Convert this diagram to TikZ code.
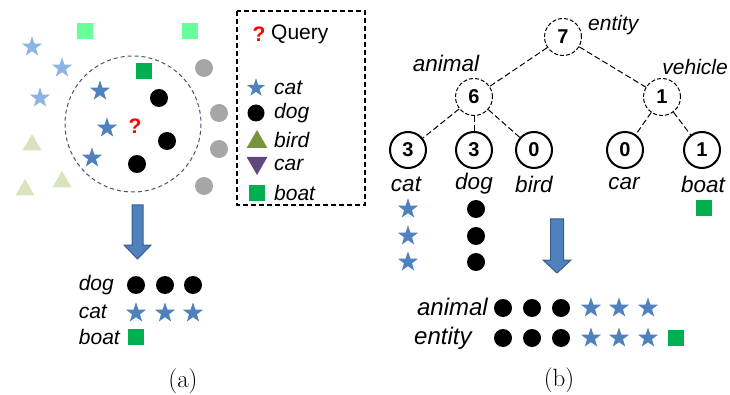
\documentclass[tikz,border=0pt]{standalone}
\usepackage{fontspec}
\newfontfamily\arial{Liberation Sans}
\usetikzlibrary{shapes.geometric}
\definecolor{cblue}{HTML}{4F81BD}
\definecolor{cblueD}{HTML}{385D8A}
\definecolor{lblue}{HTML}{8EB4E3}
\definecolor{mint}{HTML}{66FF99}
\definecolor{cgreen}{HTML}{00B050}
\definecolor{cgray}{HTML}{A6A6A6}
\definecolor{lgreen}{HTML}{D7E4BD}
\definecolor{olive}{HTML}{77933C}
\definecolor{purp}{HTML}{5F497A}
\definecolor{ring}{HTML}{44546A}
\tikzset{
  sym/.style={inner sep=0pt, outer sep=0pt, draw=none},
  bstar/.style={sym, star, star points=5, star point ratio=2.5, minimum size=21pt, fill=cblue},
  lstar/.style={bstar, fill=lblue},
  dot/.style={sym, circle, minimum size=18pt, fill=black},
  gdot/.style={dot, fill=cgray},
  sq/.style={sym, rectangle, minimum size=16pt, fill=cgreen},
  lsq/.style={sq, fill=mint},
  tri/.style={sym, regular polygon, regular polygon sides=3, minimum size=22pt, fill=lgreen},
  lab/.style={inner sep=0pt, font=\arial\itshape\fontsize{21}{24}\selectfont},
  tlab/.style={inner sep=0pt, font=\arial\itshape\fontsize{22.5}{26}\selectfont},
  blab/.style={inner sep=0pt, font=\arial\itshape\fontsize{24}{28}\selectfont},
  dnode/.style={circle, draw, dashed, dash pattern=on 4pt off 2pt, line width=1pt, minimum size=37pt, inner sep=0pt, font=\arial\bfseries\fontsize{20}{22}\selectfont},
  snode/.style={circle, draw, line width=2pt, minimum size=36pt, inner sep=0pt, font=\arial\bfseries\fontsize{20}{22}\selectfont},
  tedge/.style={dashed, dash pattern=on 6pt off 3pt, line width=1pt},
  barrow/.style={fill=cblue, draw=cblueD, line width=1pt},
  captxt/.style={inner sep=0pt, font=\fontsize{25}{28}\selectfont}
}
\begin{document}
\begin{tikzpicture}[x=1pt, y=-1pt]
\useasboundingbox (0,0) rectangle (730,395);
% ---------- (a) scatter ----------
\node[lsq] (m1) at (84.5,31) {};
\node[lsq] (m2) at (189.5,31) {};
\node[lstar] (ls1) at (32,47) {};
\node[lstar] (ls2) at (62,68) {};
\node[lstar] (ls3) at (40,98) {};
\node[tri] (t1) at (32,145) {};
\node[tri] (t2) at (62,182) {};
\node[tri] (t3) at (25,190) {};
\node[gdot] (g1) at (204,68) {};
\node[gdot] (g2) at (219,113) {};
\node[gdot] (g3) at (219,149) {};
\node[gdot] (g4) at (204,186) {};
\draw[ring, dashed, dash pattern=on 4pt off 3pt, line width=1pt] (133,124) circle (68);
\node[sq] (gs) at (143.5,71.5) {};
\node[bstar] (s1) at (100,91) {};
\node[bstar] (s2) at (107,128) {};
\node[bstar] (s3) at (92,158) {};
\node[dot] (d1) at (159,98) {};
\node[dot] (d2) at (167,141) {};
\node[dot] (d3) at (137,164) {};
\node[inner sep=0pt, text=red, font=\arial\bfseries\fontsize{21}{24}\selectfont] (q) at (135,126) {?};
% legend
\draw[dashed, dash pattern=on 5pt off 3pt, line width=1.5pt] (237,11) rectangle (365,205);
\node[inner sep=0pt, text=red, font=\arial\bfseries\fontsize{21}{24}\selectfont] (lq) at (259,34) {?};
\node[inner sep=0pt, anchor=west, font=\arial\fontsize{21}{24}\selectfont] (lqt) at (271,34) {Query};
\node[bstar, minimum size=19pt] (lg1) at (256,88) {};
\node[lab, anchor=west] at (274,88) {cat};
\node[dot, minimum size=17pt] (lg2) at (256,113) {};
\node[lab, anchor=west] at (274,113) {dog};
\node[tri, fill=olive, minimum size=24pt] (lg3) at (257,142) {};
\node[lab, anchor=west] at (274,140) {bird};
\node[tri, fill=purp, minimum size=24pt, shape border rotate=180] (lg4) at (257,163) {};
\node[lab, anchor=west] at (274,165) {car};
\node[sq] (lg5) at (257,193) {};
\node[lab, anchor=west] at (274,193) {boat};
% arrow a
\draw[barrow] (132,205) -- (143,205) -- (143,245) -- (151,245) -- (137.5,259) -- (124,245) -- (132,245) -- cycle;
% result a
\node[lab, anchor=east] (ra1) at (114,285) {dog};
\node[dot] at (136,285) {};
\node[dot] at (165,285) {};
\node[dot] at (193,285) {};
\node[lab, anchor=east] (ra2) at (107,312) {cat};
\node[bstar] at (136,313) {};
\node[bstar] at (165,313) {};
\node[bstar] at (193,313) {};
\node[lab, anchor=east] (ra3) at (120,337) {boat};
\node[sq] at (136,337) {};
\node[captxt] (capa) at (183,381) {(a)};
% ---------- (b) tree ----------
\node[dnode] (n7) at (563,37) {7};
\node[lab, anchor=west] at (588,25) {entity};
\node[dnode] (n6) at (474,97) {6};
\node[tlab] at (446,63) {animal};
\node[dnode] (n1) at (662,97) {1};
\node[lab, anchor=east] at (728,67) {vehicle};
\node[snode] (lc) at (408,150) {3};
\node[snode] (ld) at (474,150) {3};
\node[snode] (lb) at (534,150) {0};
\node[snode] (lr) at (625,150) {0};
\node[snode] (lo) at (702,150) {1};
\draw[tedge] (n7) -- (n6);
\draw[tedge] (n7) -- (n1);
\draw[tedge] (n6) -- (lc);
\draw[tedge] (n6) -- (ld);
\draw[tedge] (n6) -- (lb);
\draw[tedge] (n1) -- (lr);
\draw[tedge] (n1) -- (lo);
\node[tlab] at (406,184) {cat};
\node[tlab] at (474,184) {dog};
\node[tlab] at (534,184) {bird};
\node[tlab] at (624,184) {car};
\node[tlab] at (703,184) {boat};
\node[bstar] at (408,209) {};
\node[bstar] at (408,236) {};
\node[bstar] at (408,262) {};
\node[dot] at (476,209) {};
\node[dot] at (476,236) {};
\node[dot] at (476,262) {};
\node[sq] at (704,208) {};
% arrow b
\draw[barrow] (550.5,219) -- (563.5,219) -- (563.5,260) -- (571,260) -- (557,273) -- (543,260) -- (550.5,260) -- cycle;
% result b
\node[blab, anchor=east] (rb1) at (488,307) {animal};
\node[dot] at (503,308) {};
\node[dot] at (532,308) {};
\node[dot] at (561,308) {};
\node[bstar] at (591,308) {};
\node[bstar] at (619,308) {};
\node[bstar] at (648,308) {};
\node[blab, anchor=west] (rb2) at (414,338) {entity};
\node[dot] at (503,338) {};
\node[dot] at (532,338) {};
\node[dot] at (561,338) {};
\node[bstar] at (591,338) {};
\node[bstar] at (619,338) {};
\node[bstar] at (648,338) {};
\node[sq] at (676,338) {};
\node[captxt] (capb) at (559,380) {(b)};
\end{tikzpicture}
\end{document}
